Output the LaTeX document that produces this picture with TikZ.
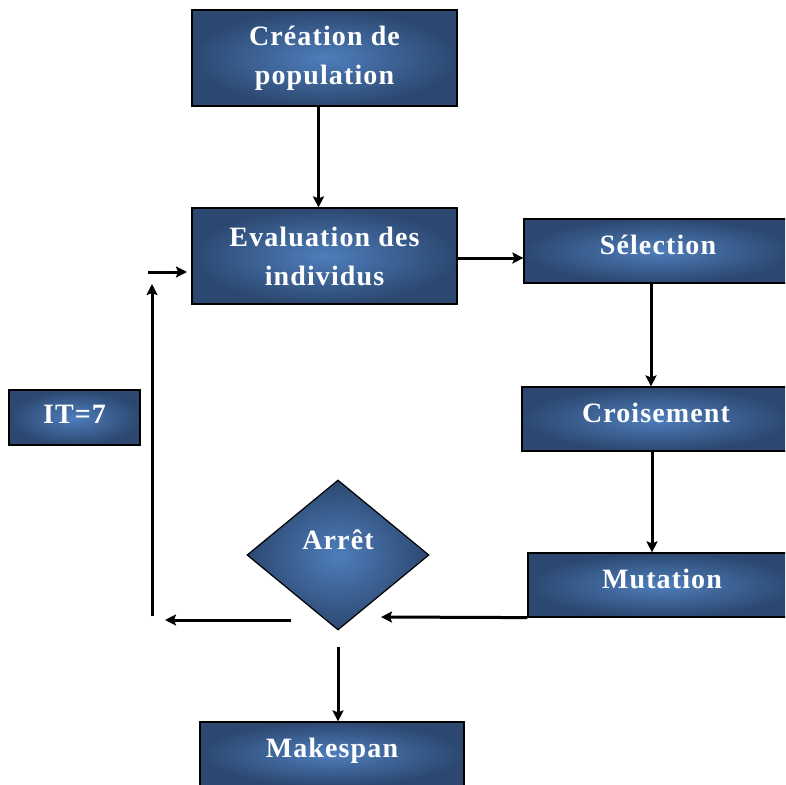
\documentclass[tikz,border=0pt]{standalone}
\usepackage{fontspec}
\setmainfont{Liberation Serif}[LetterSpace=4]
\usetikzlibrary{shapes.geometric,arrows.meta}
\definecolor{boxout}{RGB}{44,72,112}
\definecolor{boxin}{RGB}{78,126,188}
\tikzset{
  boxstyle/.style={draw=black, line width=1.2pt, inner color=boxin, outer color=boxout,
    text=white, font=\fontsize{28}{39}\selectfont\bfseries, align=center, inner sep=0pt},
  onebox/.style={boxstyle, text height=25pt, text depth=18pt},
  arr/.style={line width=3pt, -{Stealth[length=11pt,width=11pt,inset=2pt]}}
}
\begin{document}
\begin{tikzpicture}[x=1pt,y=-1pt]
\clip (0,0) rectangle (785,785);
\fill[white] (0,0) rectangle (785,785);

\node[boxstyle, minimum width=265pt, minimum height=96pt] (crea) at (324.5,58) {Création de\\population};
\node[boxstyle, minimum width=265pt, minimum height=96pt] (eval) at (324.5,256) {Evaluation des\\individus};
\node[onebox, minimum width=268pt, minimum height=64pt] (sel) at (658,251) {Sélection};
\node[onebox, minimum width=268pt, minimum height=64pt] (croi) at (656,419) {Croisement};
\node[onebox, minimum width=268pt, minimum height=64pt] (mut) at (662,585) {Mutation};
\node[onebox, minimum width=131pt, minimum height=55pt, text height=28pt, text depth=17pt] (it) at (74.5,417.5) {IT=7};
\node[boxstyle, diamond, minimum width=182pt, minimum height=150pt] (arret) at (338,555) {\smash{\raisebox{6pt}{Arrêt}}};
\node[onebox, minimum width=264pt, minimum height=64pt] (make) at (332,754) {Makespan};

\coordinate (tipA) at (381,617);
\coordinate (la1) at (291,620);
\coordinate (la2) at (165,620);
\coordinate (v1) at (152,616);
\coordinate (v2) at (152,284);
\coordinate (s1) at (148,272);
\coordinate (s2) at (187,272);
\coordinate (d1) at (338,647);

\draw[arr] ([xshift=-6pt]crea.south) -- ([xshift=-6pt]eval.north);
\draw[arr] ([yshift=-2pt]eval.east) -- ([yshift=-2pt]eval.east -| sel.west);
\draw[arr] (sel.south -| 651,0) -- (croi.north -| 651,0);
\draw[arr] (croi.south -| 652,0) -- (mut.north -| 652,0);
\draw[arr] (mut.south west) -- (tipA);
\draw[arr] (la1) -- (la2);
\draw[arr] (v1) -- (v2);
\draw[arr] (s1) -- (s2);
\draw[arr] (d1) -- (d1 |- make.north);
\end{tikzpicture}
\end{document}
